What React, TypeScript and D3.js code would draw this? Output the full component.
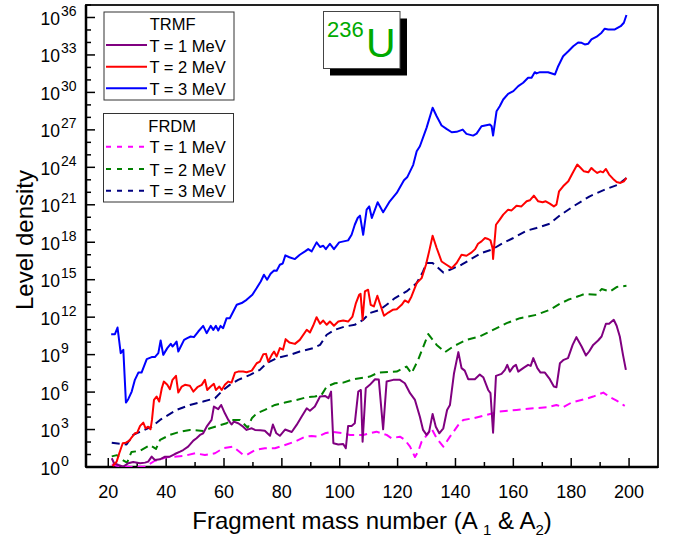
import React from "react";
import * as d3 from "d3";

// Fragment mass number A and log10(level density)
type P = [number, number];

const trmfT1: P[] = [
  [21.2, 0.7], [22, 0.3], [23.5, 0.16], [25.2, 0.03], [26.9, 0.3], [28.6, 0.4], [31, 0.3], [32.7, 0.35], [33.8, 0.43], [35, 0.83],
  [36.1, 0.56], [37.9, 0.62], [39.6, 0.83], [41.3, 0.83], [43, 1.04], [44.8, 1.23], [45.9, 1.36], [47.6, 1.63], [49.4, 2.11], [50.5, 2.3],
  [51.7, 2.57], [52.8, 2.7], [54, 3.23], [55.7, 3.77], [56.5, 4.84], [58, 4.63], [59, 4.97], [60.3, 4.3], [61.5, 3.77], [62.6, 3.4],
  [63.4, 3.63], [64.9, 3.5], [66.6, 3.23], [67.8, 2.97], [69.6, 3.1], [70.7, 2.97], [72.5, 2.95], [74.1, 2.91], [75.9, 2.5], [76.9, 3.4],
  [78.1, 2.7], [79.3, 2.5], [81.1, 3.0], [83.4, 2.8], [85.1, 3.37], [86.8, 4.03], [88.6, 4.7], [89.7, 4.51], [91.4, 4.84], [93.2, 5.64],
  [94.9, 5.69], [96.1, 5.51], [97, 6.04], [97.8, 1.9], [99.5, 1.8], [101.2, 1.85], [102.1, 1.5], [102.9, 3.29], [104.1, 3.29], [105.2, 3.5],
  [106.4, 6.04], [107.3, 6.17], [107.9, 2.03], [109, 6.31], [110.4, 6.58], [112.2, 7.03], [113.5, 7.0], [115, 3.02], [116.2, 6.84], [118.5, 6.98],
  [120.8, 6.98], [122.5, 6.71], [124.3, 5.91], [126, 5.37], [127.7, 4.03], [128.8, 2.97], [130, 2.57], [130.9, 2.83], [132.1, 4.25], [133.2, 3.23],
  [134.4, 2.7], [135.8, 3.1], [137.1, 4.57], [138.1, 4.97], [139.5, 7.51], [141, 9.2], [142.1, 7.92], [143.2, 7.72], [144.4, 7.03], [146.7, 7.03],
  [148.4, 7.4], [149.6, 7.19], [151.3, 6.17], [152.1, 5.91], [153, 2.75], [154, 7.3], [155.9, 7.46], [157.1, 7.78], [157.9, 8.18], [158.8, 7.64],
  [160, 8.04], [160.9, 8.18], [161.7, 7.64], [163.4, 7.92], [165.1, 8.18], [166, 8.1], [166.9, 8.72], [168.3, 7.92], [169.4, 7.56], [170.9, 7.56],
  [172.6, 7.03], [174, 6.44], [174.9, 6.39], [176.1, 8.31], [177.4, 8.58], [178.9, 8.72], [180.5, 9.78], [181.8, 10.4], [183.6, 9.65], [185.1, 8.93],
  [186.2, 9.25], [187.6, 9.78], [189.3, 10.13], [190.5, 10.45], [192, 11.47], [193.1, 11.47], [194.7, 11.79], [195.7, 11.31], [196.8, 10.45], [197.9, 8.98],
  [198.9, 7.78],
];

const trmfT2: P[] = [
  [21.5, 0.08], [22.9, 0.43], [23.8, 1.1], [25, 1.9], [26.1, 1.95], [27.3, 2.11], [28.1, 2.38], [29.2, 2.7], [30, 2.75], [31, 3.29],
  [32.1, 3.55], [32.9, 3.1], [33.8, 3.23], [34.6, 3.02], [35.1, 3.77], [35.8, 5.37], [36.7, 5.64], [37.6, 5.24], [38.5, 6.31], [39.2, 6.84],
  [40.4, 6.58], [41.3, 6.23], [42.2, 6.98], [43.4, 7.3], [44.2, 5.96], [45.4, 6.44], [46.5, 6.58], [48.2, 6.5], [49.4, 6.04], [50.8, 6.39],
  [52.3, 6.58], [53.4, 6.98], [54.2, 6.17], [55.4, 6.44], [56.5, 6.66], [57.2, 6.17], [58.4, 6.44], [59.2, 6.17], [60.3, 6.58], [61.5, 6.84],
  [62.6, 6.76], [63.8, 7.56], [64.9, 7.64], [66.6, 7.64], [67.8, 7.59], [69.6, 7.72], [71.3, 8.31], [72.4, 8.44], [73.6, 9.04], [74.5, 9.06],
  [75.3, 8.44], [76.5, 8.98], [77.3, 9.25], [78.2, 8.85], [79.3, 9.52], [80.4, 9.4], [81.3, 10.24], [82.6, 9.97], [84.5, 9.86], [86.2, 10.18],
  [88.6, 10.99], [89.7, 10.77], [90.8, 11.31], [92, 12.0], [93.2, 11.47], [94.3, 11.73], [95.5, 11.39], [96.6, 11.65], [98, 11.31], [99.5, 11.65],
  [101.2, 11.73], [102.9, 11.65], [104.4, 12.05], [105.6, 13.13], [106.7, 13.79], [107.2, 13.87], [107.9, 11.79], [108.7, 14.06], [109.8, 14.2], [110.7, 12.99],
  [111.8, 12.86], [113, 13.71], [113.9, 13.07], [115.3, 12.11], [116.8, 12.37], [118.3, 12.59], [119.7, 12.64], [121.4, 12.99], [122.5, 13.34], [123.7, 13.18],
  [124.8, 13.66], [126.6, 14.73], [128.3, 15.13], [129.8, 16.2], [130.9, 17.27], [132.1, 18.52], [133.5, 17.54], [135.2, 16.46], [136.9, 16.2], [138.7, 15.93],
  [140.4, 16.34], [142.1, 17.0], [143.8, 16.92], [145.6, 17.19], [146.8, 17.45], [147.8, 17.88], [149, 18.07], [150.2, 18.34], [151.3, 18.26], [152.1, 18.15],
  [152.8, 17.54], [153, 16.66], [154, 19.4], [155.3, 19.81], [156.5, 20.21], [158.2, 20.61], [159.4, 20.55], [161.1, 20.93], [162.8, 20.87], [164.6, 21.28],
  [165.7, 21.36], [167.1, 21.73], [168.6, 21.28], [170.1, 21.2], [171.2, 21.28], [172.6, 21.09], [174, 20.87], [174.9, 21.01], [175.8, 22.08], [177.2, 22.48],
  [179, 22.88], [180.5, 23.55], [182.1, 24.22], [183.3, 23.95], [184.4, 23.68], [185.9, 23.6], [187, 23.95], [187.8, 23.76], [189, 23.55], [190.1, 23.68],
  [191, 23.6], [192, 23.87], [193.1, 23.42], [194.5, 23.07], [195.7, 22.83], [197, 22.75], [198.2, 22.88], [199.1, 23.15],
];

const trmfT3: P[] = [
  [21, 10.64], [22.3, 10.64], [23.2, 11.17], [24.3, 9.12], [25.2, 9.38], [26.1, 5.16], [26.9, 5.43], [28.1, 6.04], [29.2, 6.98], [30.4, 7.56],
  [31.5, 7.56], [33.3, 8.64], [35, 8.8], [36.1, 8.8], [37.3, 9.12], [38.1, 10.13], [39, 8.98], [40.4, 9.52], [41.6, 9.86], [42.2, 9.65],
  [43, 9.86], [43.6, 10.05], [44.2, 9.25], [46.2, 10.18], [47.3, 10.32], [48.5, 10.45], [49.6, 10.4], [51.1, 10.85], [52.8, 11.3], [54, 10.72],
  [55.4, 11.3], [56.3, 10.98], [57.2, 11.3], [58, 10.93], [58.8, 11.3], [59.7, 11.12], [60.9, 11.92], [62, 11.92], [63.2, 12.45], [64.4, 12.99],
  [66.1, 13.13], [67.8, 13.39], [69.8, 13.79], [71.3, 14.33], [72.7, 14.86], [73.8, 15.4], [74.9, 15.0], [76.1, 15.48], [77.3, 15.74], [78.2, 15.72],
  [79.3, 16.2], [80.3, 16.3], [81.2, 16.95], [82.6, 16.8], [84.5, 16.65], [86.2, 17.0], [88, 17.27], [89.1, 17.45], [90.3, 17.27], [92, 17.99],
  [93.2, 17.62], [94.3, 17.72], [95.2, 17.45], [96.6, 17.88], [98, 17.45], [99.8, 17.99], [102.9, 18.15], [104.1, 18.6], [105.2, 19.4], [106.2, 19.94],
  [107, 20.13], [108.1, 18.6], [109.3, 20.61], [110.2, 20.87], [111.1, 19.94], [113.1, 21.2], [115, 20.4], [117.3, 21.28], [119.7, 21.95], [122.2, 22.96],
  [123.3, 23.2], [125.4, 24.2], [126.6, 25.28], [127.7, 25.69], [130, 27.16], [132.1, 28.77], [133.5, 28.09], [135.2, 27.35], [136.9, 27.08], [138.7, 26.81],
  [140.4, 26.84], [142.5, 27.02], [143.8, 26.68], [146.1, 26.54], [147.3, 26.7], [149, 27.29], [151.9, 27.43], [152.5, 27.29], [153, 26.54], [154.2, 28.49],
  [155.3, 28.89], [156.5, 29.43], [158.2, 29.89], [160, 30.1], [161.7, 30.5], [163.4, 30.77], [165.1, 31.17], [166.3, 31.17], [167.4, 31.62], [168, 31.52],
  [169.2, 31.62], [172, 31.62], [174.4, 31.44], [175.5, 32.1], [177.2, 32.9], [179, 33.3], [180.7, 33.7], [182.4, 34.0], [183.6, 33.97], [184.7, 33.84],
  [185.9, 33.9], [187, 34.24], [188.8, 34.46], [190.5, 34.78], [191.6, 35.1], [192.8, 35.04], [195.1, 35.04], [197.1, 35.3], [198.2, 35.58], [199.1, 36.2],
];

const frdmT1: P[] = [
  [21.2, 0.2], [23, 0.1], [25, 0.05], [28.1, 0.0], [32.7, 0.03], [36.1, 0.5], [40.2, 0.78], [46, 0.88], [50, 1.1], [53.4, 0.96],
  [56.9, 1.1], [59.7, 1.5], [63.2, 1.63], [66.5, 1.0], [67.8, 0.96], [70.7, 1.36], [74.1, 1.5], [77.6, 1.5], [81.1, 1.76], [84.5, 2.03],
  [88, 2.43], [90.3, 2.49], [92.6, 2.43], [94.9, 2.7], [97.2, 2.83], [101.2, 2.7], [103.5, 2.57], [108.1, 2.57], [112.7, 2.83], [116.2, 2.57],
  [117.9, 2.3], [120.8, 2.43], [122.5, 2.17], [124.3, 1.63], [126, 0.8], [127.1, 1.23], [128.3, 2.03], [130.6, 2.7], [131.7, 3.1], [133.5, 2.3],
  [135.8, 1.63], [138.1, 2.43], [141, 3.37], [142.7, 3.77], [146.1, 3.9], [150.7, 4.17], [155.3, 4.45], [161.1, 4.57], [166.9, 4.7], [171.5, 4.78],
  [174.9, 4.97], [177.2, 4.78], [180.1, 5.16], [184.7, 5.43], [187.6, 5.64], [191.1, 5.96], [193.4, 5.59], [195.7, 5.32], [198.5, 4.89],
];

const frdmT2: P[] = [
  [21.2, 0.85], [23, 0.95], [25, 0.55], [26.5, 0.35], [28, 1.2], [31, 1.3], [34.4, 1.75], [36.5, 1.45], [37.9, 2.17], [41.3, 2.57],
  [44.8, 2.83], [48.2, 2.97], [52.8, 2.89], [55.2, 3.1], [58, 3.3], [60.9, 3.5], [62.6, 3.77], [65.5, 3.77], [68.2, 3.15], [69.6, 3.9],
  [71.3, 4.3], [74.1, 4.57], [77.6, 4.97], [81.1, 5.16], [85.1, 5.37], [88.6, 5.59], [91.4, 5.64], [93.7, 5.77], [95.5, 6.44], [98.3, 6.71],
  [101.2, 6.76], [104.7, 7.03], [110.4, 7.24], [113.3, 7.56], [119.7, 7.64], [123.1, 8.04], [124.8, 7.5], [127.1, 8.58], [130.6, 10.65], [133.5, 9.78],
  [136.4, 9.2], [139.2, 9.65], [141, 9.86], [143.8, 10.18], [148.4, 10.45], [151.9, 10.85], [157.7, 11.52], [162.3, 11.92], [168, 12.19], [172.6, 12.59],
  [176.1, 13.07], [178.9, 13.39], [182.9, 13.71], [184.7, 13.87], [188.8, 13.79], [190.5, 14.25], [193.4, 14.06], [195.7, 14.41], [199.1, 14.51],
];

const frdmT3: P[] = [
  [21.2, 1.95], [26.3, 1.8], [28.6, 2.57], [35, 3.23], [37.9, 3.77], [43.6, 4.57], [48.2, 4.97], [52.8, 5.24], [56.9, 5.51], [59.7, 6.17],
  [62, 6.58], [64.9, 6.98], [69, 7.38], [72.4, 7.78], [74.7, 8.31], [78.2, 8.72], [82.8, 8.98], [86.2, 9.25], [90.8, 9.52], [93.2, 9.78],
  [95.5, 10.59], [98.3, 10.99], [101.8, 11.25], [105.2, 11.39], [108.1, 11.79], [110.4, 12.33], [113.9, 12.59], [116.2, 12.99], [119.1, 13.53], [123.1, 14.06],
  [126.6, 14.73], [128.8, 15.66], [130, 16.34], [132.1, 16.34], [135.8, 15.58], [138.1, 15.8], [142.1, 16.2], [145, 16.6], [149, 17.14], [152.5, 17.4],
  [156.5, 17.94], [160, 18.34], [164.6, 18.93], [168, 19.14], [172.6, 19.49], [176.1, 20.15], [180.7, 20.87], [186.4, 21.68], [192.2, 22.27], [196.2, 22.61],
  [199.1, 23.15],
];

const xTickValues = [20, 40, 60, 80, 100, 120, 140, 160, 180, 200];
const xMinorValues = [30, 50, 70, 90, 110, 130, 150, 170, 190];
const yTickExponents = [0, 3, 6, 9, 12, 15, 18, 21, 24, 27, 30, 33, 36];
const yMinorExponents = d3.range(1, 38);

const trmfLabels = ["T = 1 MeV", "T = 2 MeV", "T = 3 MeV"];
const frdmLabels = ["T = 1 MeV", "T = 2 MeV", "T = 3 MeV"];

const FONT = "'Liberation Sans', Arial, Helvetica, sans-serif";

export default function App() {
  const W = 673, H = 537;
  const L = 86, R = 658, T = 5, B = 467;
  const xs = d3.scaleLinear().domain([12.3, 210]).range([L, R]);
  const ys = d3.scaleLog().domain([1, 1e37]).range([B, T]);
  const line = d3
    .line<P>()
    .x((d) => xs(d[0]))
    .y((d) => ys(Math.pow(10, d[1])));

  const series = [
    { data: frdmT1, color: "#ff00ff", dash: "8,5" },
    { data: frdmT2, color: "#008000", dash: "8,5" },
    { data: frdmT3, color: "#000080", dash: "8,5" },
    { data: trmfT1, color: "#800080", dash: undefined },
    { data: trmfT2, color: "#ff0000", dash: undefined },
    { data: trmfT3, color: "#0000ff", dash: undefined },
  ];

  const trmfColors = ["#800080", "#ff0000", "#0000ff"];
  const frdmColors = ["#ff00ff", "#008000", "#000080"];
  const trmfRowsY = [45, 66.7, 88.3];
  const frdmRowsY = [146.7, 169, 190.7];

  return (
    <svg
      width={W}
      height={H}
      style={{ position: "absolute", left: 0, top: 0, background: "#fff" }}
      fontFamily={FONT}
    >
      <rect x={0} y={0} width={W} height={H} fill="#fff" />
      <defs>
        <clipPath id="plotclip">
          <rect x={L} y={T} width={R - L} height={B - T} />
        </clipPath>
      </defs>

      {/* frame */}
      <rect x={L} y={T} width={R - L} height={B - T} fill="none" stroke="#222" strokeWidth={2} />
      <line x1={L} y1={T} x2={L} y2={B} stroke="#000" strokeWidth={2.5} />
      <line x1={L} y1={B} x2={R} y2={B} stroke="#000" strokeWidth={2.5} />

      {/* x ticks */}
      {xTickValues.map((v) => (
        <g key={"xt" + v}>
          <line x1={xs(v)} x2={xs(v)} y1={B} y2={B - 9} stroke="#000" strokeWidth={1.5} />
          <text x={xs(v)} y={498} fontSize={18} textAnchor="middle" fill="#000">
            {v}
          </text>
        </g>
      ))}
      {xMinorValues.map((v) => (
        <line key={"xm" + v} x1={xs(v)} x2={xs(v)} y1={B} y2={B - 5} stroke="#000" strokeWidth={1.5} />
      ))}

      {/* y ticks */}
      {yMinorExponents.map((e) => (
        <line
          key={"ym" + e}
          x1={L}
          x2={L + (e % 3 === 0 ? 9 : 5)}
          y1={ys(Math.pow(10, e))}
          y2={ys(Math.pow(10, e))}
          stroke="#000"
          strokeWidth={1.5}
        />
      ))}
      {yTickExponents.map((e) => {
        const y = ys(Math.pow(10, e));
        return (
          <g key={"yt" + e}>
            <text x={60} y={y + 7.5} fontSize={17.5} textAnchor="end" fill="#000">
              10
            </text>
            <text x={61} y={y - 1.5} fontSize={14} textAnchor="start" fill="#000">
              {e}
            </text>
          </g>
        );
      })}

      {/* axis titles */}
      <text
        transform={`translate(33,240) rotate(-90)`}
        fontSize={24}
        textAnchor="middle"
        fill="#000"
      >
        Level density
      </text>
      <text x={372} y={529} fontSize={24} textAnchor="middle" fill="#000">
        <tspan>Fragment mass number (A </tspan>
        <tspan dy={6} fontSize={15}>1</tspan>
        <tspan dy={-6}> &amp; A</tspan>
        <tspan dy={6} fontSize={15}>2</tspan>
        <tspan dy={-6}>)</tspan>
      </text>

      {/* data */}
      <g clipPath="url(#plotclip)">
        {series.map((s, i) => (
          <path
            key={"s" + i}
            d={line(s.data) || ""}
            fill="none"
            stroke={s.color}
            strokeWidth={2}
            strokeDasharray={s.dash}
            strokeLinejoin="round"
          />
        ))}
      </g>

      {/* TRMF legend */}
      <rect x={104} y={12} width={130} height={88} fill="#fff" stroke="#333" strokeWidth={1} />
      <text x={172.7} y={30} fontSize={16.5} textAnchor="middle" fill="#000">
        TRMF
      </text>
      {trmfLabels.map((lab, i) => (
        <g key={"tl" + i}>
          <line x1={106} x2={147} y1={trmfRowsY[i]} y2={trmfRowsY[i]} stroke={trmfColors[i]} strokeWidth={2} />
          <text x={149.5} y={trmfRowsY[i] + 6.5} fontSize={16.5} fill="#000">
            {lab}
          </text>
        </g>
      ))}

      {/* FRDM legend */}
      <rect x={103.5} y={113.5} width={130} height={88.5} fill="#fff" stroke="#333" strokeWidth={1} />
      <text x={172.2} y={131.7} fontSize={16.5} textAnchor="middle" fill="#000">
        FRDM
      </text>
      {frdmLabels.map((lab, i) => (
        <g key={"fl" + i}>
          <line
            x1={106}
            x2={147}
            y1={frdmRowsY[i]}
            y2={frdmRowsY[i]}
            stroke={frdmColors[i]}
            strokeWidth={2}
            strokeDasharray="5,6"
          />
          <text x={149.5} y={frdmRowsY[i] + 6.5} fontSize={16.5} fill="#000">
            {lab}
          </text>
        </g>
      ))}

      {/* 236U label */}
      <rect x={330} y={18.5} width={77} height={57} fill="#000" />
      <rect x={323.5} y={11.5} width={76.5} height={57} fill="#fff" stroke="#444" strokeWidth={1} />
      <text x={327} y={37} fontSize={22} fill="#00aa00">
        236
      </text>
      <text x={366} y={57} fontSize={41} fill="#00aa00">
        U
      </text>
    </svg>
  );
}
